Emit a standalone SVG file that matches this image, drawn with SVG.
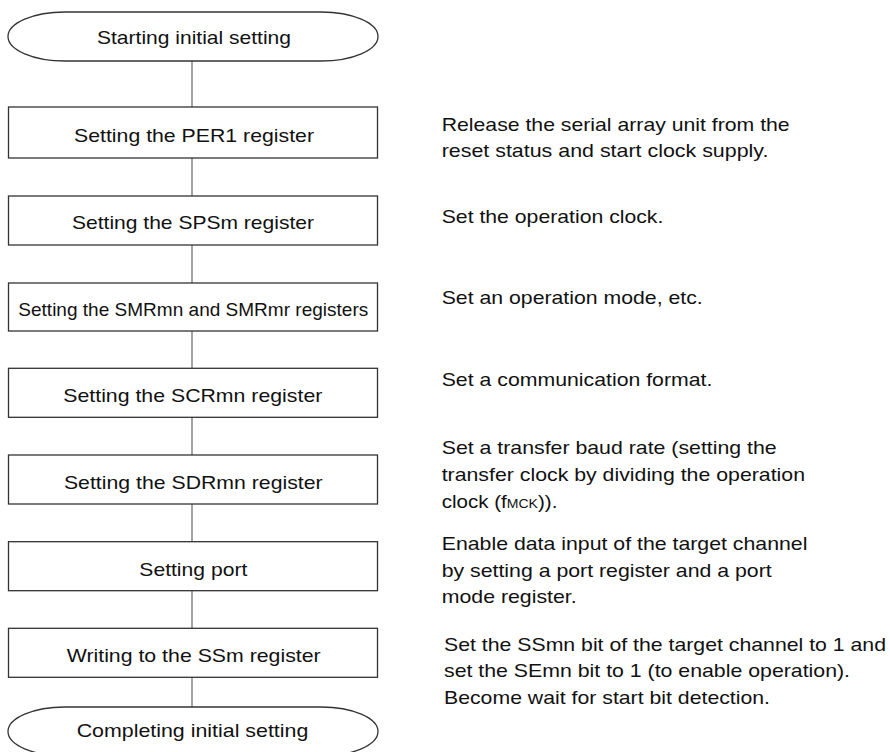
<svg xmlns="http://www.w3.org/2000/svg" width="890" height="752" viewBox="0 0 890 752">
<style>
.box{fill:#fff;stroke:#333;stroke-width:1.3}
.term{fill:#fff;stroke:#333;stroke-width:1.3}
.conn{stroke:#666;stroke-width:1.2;fill:none}
text{font-family:"Liberation Sans",Arial,sans-serif;font-size:19px;fill:#111}
.c{text-anchor:middle}
</style>
<rect width="890" height="752" fill="#fff"/>
<g id="connectors">
<line class="conn" x1="192" y1="61" x2="192" y2="107"/>
<line class="conn" x1="192" y1="158" x2="192" y2="196"/>
<line class="conn" x1="192" y1="245" x2="192" y2="283"/>
<line class="conn" x1="192" y1="331" x2="192" y2="368"/>
<line class="conn" x1="192" y1="417" x2="192" y2="455"/>
<line class="conn" x1="192" y1="504" x2="192" y2="542"/>
<line class="conn" x1="192" y1="591" x2="192" y2="628"/>
<line class="conn" x1="192" y1="677" x2="192" y2="707"/>
</g>
<g id="start">
<path class="term" d="M65,12 H321 A57,24.5 0 0 1 321,61 H65 A57,24.5 0 0 1 65,12 Z"/>
<text class="c" x="194" y="43.5" textLength="194" lengthAdjust="spacingAndGlyphs">Starting initial setting</text>
</g>
<g id="per1">
<rect class="box" x="8.5" y="107" width="369" height="51"/>
<text class="c" x="194" y="141.7" textLength="240" lengthAdjust="spacingAndGlyphs">Setting the PER1 register</text>
</g>
<g id="spsm">
<rect class="box" x="8.5" y="196" width="369" height="49"/>
<text class="c" x="193" y="229" textLength="242" lengthAdjust="spacingAndGlyphs">Setting the SPSm register</text>
</g>
<g id="smr">
<rect class="box" x="8.5" y="283" width="369" height="48"/>
<text class="c" x="193.3" y="316" textLength="350" lengthAdjust="spacingAndGlyphs">Setting the SMRmn and SMRmr registers</text>
</g>
<g id="scr">
<rect class="box" x="8.5" y="368.3" width="369" height="49"/>
<text class="c" x="192.8" y="402" textLength="259" lengthAdjust="spacingAndGlyphs">Setting the SCRmn register</text>
</g>
<g id="sdr">
<rect class="box" x="8.5" y="455" width="369" height="49"/>
<text class="c" x="193.3" y="488.5" textLength="258.7" lengthAdjust="spacingAndGlyphs">Setting the SDRmn register</text>
</g>
<g id="port">
<rect class="box" x="8.5" y="541.7" width="369" height="49"/>
<text class="c" x="193.3" y="575.5" textLength="108" lengthAdjust="spacingAndGlyphs">Setting port</text>
</g>
<g id="ssm">
<rect class="box" x="8.5" y="628.3" width="369" height="49"/>
<text class="c" x="193.7" y="662" textLength="254" lengthAdjust="spacingAndGlyphs">Writing to the SSm register</text>
</g>
<g id="end">
<path class="term" d="M65,707 H321 A57,24.5 0 0 1 321,756 H65 A57,24.5 0 0 1 65,707 Z"/>
<text class="c" x="192.5" y="737" textLength="231.7" lengthAdjust="spacingAndGlyphs">Completing initial setting</text>
</g>
<g id="notes">
<text x="441.7" y="131" textLength="348" lengthAdjust="spacingAndGlyphs">Release the serial array unit from the</text>
<text x="441.7" y="157.3" textLength="326.7" lengthAdjust="spacingAndGlyphs">reset status and start clock supply.</text>
<text x="441.7" y="222.7" textLength="221.7" lengthAdjust="spacingAndGlyphs">Set the operation clock.</text>
<text x="441.7" y="304" textLength="261" lengthAdjust="spacingAndGlyphs">Set an operation mode, etc.</text>
<text x="441.7" y="386" textLength="270.7" lengthAdjust="spacingAndGlyphs">Set a communication format.</text>
<text x="441.7" y="454.3" textLength="335" lengthAdjust="spacingAndGlyphs">Set a transfer baud rate (setting the</text>
<text x="441.7" y="480.7" textLength="363.3" lengthAdjust="spacingAndGlyphs">transfer clock by dividing the operation</text>
<text x="441.7" y="507.7" textLength="115.7" lengthAdjust="spacingAndGlyphs">clock (f<tspan font-size="13">MCK</tspan>)).</text>
<text x="441.7" y="550" textLength="365.7" lengthAdjust="spacingAndGlyphs">Enable data input of the target channel</text>
<text x="441.7" y="576.7" textLength="330" lengthAdjust="spacingAndGlyphs">by setting a port register and a port</text>
<text x="441.7" y="603.3" textLength="135" lengthAdjust="spacingAndGlyphs">mode register.</text>
<text x="444" y="651" textLength="442" lengthAdjust="spacingAndGlyphs">Set the SSmn bit of the target channel to 1 and</text>
<text x="444" y="677.3" textLength="406" lengthAdjust="spacingAndGlyphs">set the SEmn bit to 1 (to enable operation).</text>
<text x="444" y="703.5" textLength="326" lengthAdjust="spacingAndGlyphs">Become wait for start bit detection.</text>
</g>
</svg>
